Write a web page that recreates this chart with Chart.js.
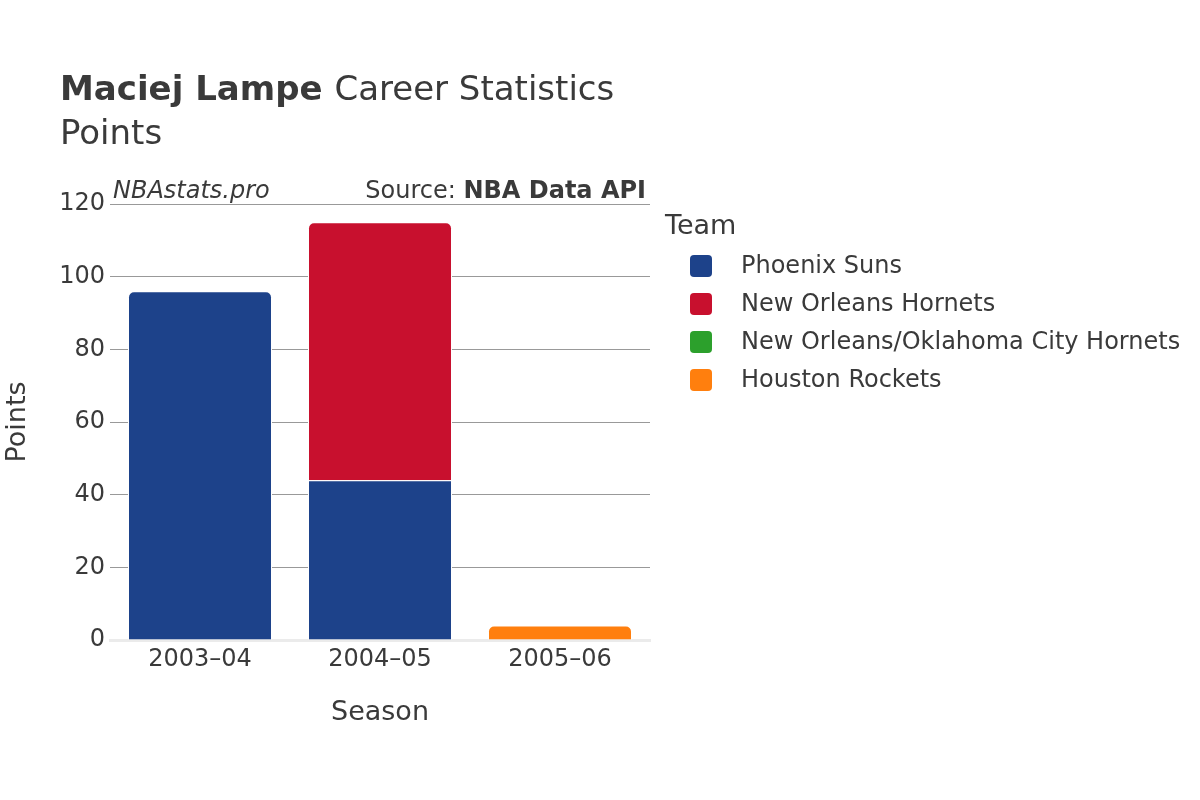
<!DOCTYPE html>
<html>
<head>
<meta charset="utf-8">
<script src="https://cdn.jsdelivr.net/npm/chart.js@4.4.0/dist/chart.umd.min.js"></script>
<style>
  body { margin: 0; background: #fff; }
  #wrap { width: 1200px; height: 800px; }
</style>
</head>
<body>
<div id="wrap"><canvas id="myChart" width="1200" height="800"></canvas></div>
<script>
// data
const seasons = ['2003–04', '2004–05', '2005–06'];
const teams = ['Phoenix Suns', 'New Orleans Hornets', 'New Orleans/Oklahoma City Hornets', 'Houston Rockets'];
const teamColors = ['#1d428a', '#c8102e', '#2ca02c', '#ff7f0e'];
const phoenixPts = [96, 44, null];
const hornetsPts = [null, 71, null];
const nokHornetsPts = [null, null, 0];
const rocketsPts = [null, null, 4];
const yTicks = [0, 20, 40, 60, 80, 100, 120];

const seriesPts = [phoenixPts, hornetsPts, nokHornetsPts, rocketsPts];
const FONT = 'DejaVu Sans';
const TXT = '#3a3a3a';

// only the top segment of each stack gets round corners
function topRadius(ctx) {
  const i = ctx.dataIndex, d = ctx.datasetIndex;
  for (let k = seriesPts.length - 1; k >= 0; k--) {
    if (seriesPts[k][i]) {
      return k === d ? { topLeft: 6, topRight: 6, bottomLeft: 0, bottomRight: 0 } : 0;
    }
  }
  return 0;
}

const datasets = teams.map((t, k) => ({
  label: t,
  data: seriesPts[k],
  backgroundColor: teamColors[k],
  borderColor: '#ffffff',
  borderWidth: 1,
  borderSkipped: 'start',
  borderRadius: topRadius,
  barPercentage: 0.8,
  categoryPercentage: 1.0
}));

const headerPlugin = {
  id: 'header',
  afterDraw(chart) {
    const c = chart.ctx;
    c.save();
    c.fillStyle = TXT;
    c.textBaseline = 'alphabetic';
    c.textAlign = 'left';
    c.font = 'bold 34px "' + FONT + '"';
    c.fillText('Maciej Lampe', 60, 100);
    const w = c.measureText('Maciej Lampe ').width;
    c.font = '34px "' + FONT + '"';
    c.fillText('Career Statistics', 60 + w, 100);
    c.fillText('Points', 60, 144);

    c.textBaseline = 'middle';
    c.font = 'italic 24px "' + FONT + '"';
    c.fillText('NBAstats.pro', 113, 192);
    c.textAlign = 'right';
    c.font = 'bold 24px "' + FONT + '"';
    c.fillText('NBA Data API', 646, 192);
    const bw = c.measureText('NBA Data API').width;
    c.font = '24px "' + FONT + '"';
    c.fillText('Source: ', 646 - bw, 192);

    // legend
    c.textAlign = 'left';
    c.font = '27px "' + FONT + '"';
    c.fillText('Team', 665, 227);
    c.font = '24px "' + FONT + '"';
    chart.data.datasets.forEach((ds, k) => {
      const y = 266 + k * 38;
      c.fillStyle = ds.backgroundColor;
      c.beginPath();
      c.roundRect(690, y - 11, 22, 22, 4);
      c.fill();
      c.fillStyle = TXT;
      c.fillText(ds.label, 741, y + 1);
    });
    c.restore();
  }
};

new Chart(document.getElementById('myChart'), {
  type: 'bar',
  data: { labels: seasons, datasets: datasets },
  plugins: [headerPlugin],
  options: {
    responsive: false,
    animation: false,
    layout: { padding: { top: 204, right: 550, left: 0, bottom: 0 } },
    plugins: {
      legend: { display: false },
      tooltip: { enabled: false }
    },
    scales: {
      x: {
        stacked: true,
        grid: { display: false, drawTicks: false },
        border: { display: true, color: '#ebebeb', width: 3 },
        ticks: { color: TXT, font: { family: FONT, size: 24 }, padding: 5 },
        title: { display: true, text: 'Season', color: TXT, font: { family: FONT, size: 27 }, padding: { top: 71, bottom: 71 } },
        afterFit(s) { s.height = 160; }
      },
      y: {
        stacked: true,
        min: 0,
        max: 120,
        afterBuildTicks(s) { s.ticks = yTicks.map(v => ({ value: v })); },
        grid: {
          drawTicks: false,
          color: ctx => ctx.tick && ctx.tick.value === 0 ? 'rgba(0,0,0,0)' : '#999999',
          lineWidth: 1
        },
        border: { display: false },
        ticks: { color: TXT, font: { family: FONT, size: 24 }, padding: 5 },
        title: { display: true, text: 'Points', color: TXT, font: { family: FONT, size: 27 }, padding: { top: 2, bottom: 2 } },
        afterFit(s) { s.width = 110; }
      }
    }
  }
});
</script>
</body>
</html>
